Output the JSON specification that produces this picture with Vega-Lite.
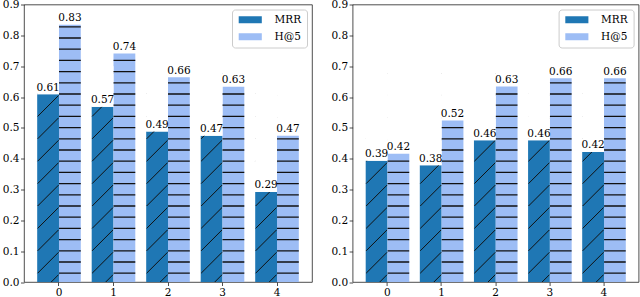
{
  "$schema": "https://vega.github.io/schema/vega-lite/v6.json",
  "padding": {"left": 1, "top": -1.5, "right": 2, "bottom": 0},
  "spacing": 40.6,
  "bounds": "flush",
  "config": {
    "font": "DejaVu Serif",
    "view": {"stroke": "#222222", "strokeWidth": 0.8},
    "axis": {"labelFont": "DejaVu Serif", "labelFontSize": 10.5, "labelColor": "#000000", "tickColor": "#222222", "tickSize": 3.5, "tickWidth": 0.8, "domain": false, "grid": false, "title": null, "labelPadding": 1.5, "labelOverlap": false},
    "axisY": {"tickCount": 10, "labelOverlap": false, "format": ".1f"},
    "axisX": {"labelAngle": 0, "labelPadding": 2},
    "legend": {
      "orient": "top-right", "offset": 5, "padding": 5,
      "symbolType": "M-3.3,-1H3.3V1H-3.3Z", "symbolSize": 49, "symbolStrokeWidth": 0, "symbolOffset": 8,
      "labelFont": "DejaVu Serif", "labelFontSize": 10.5, "labelColor": "#000000", "labelOffset": 19,
      "strokeColor": "#cccccc", "fillColor": "#ffffff", "cornerRadius": 3, "rowPadding": 6
    }
  },
  "data": {"values": [
    {"panel": "A", "k": "0", "metric": "MRR", "value": 0.609},
    {"panel": "A", "k": "1", "metric": "MRR", "value": 0.568},
    {"panel": "A", "k": "2", "metric": "MRR", "value": 0.488},
    {"panel": "A", "k": "3", "metric": "MRR", "value": 0.474},
    {"panel": "A", "k": "4", "metric": "MRR", "value": 0.292},
    {"panel": "A", "k": "0", "metric": "H@5", "value": 0.834},
    {"panel": "A", "k": "1", "metric": "H@5", "value": 0.741},
    {"panel": "A", "k": "2", "metric": "H@5", "value": 0.664},
    {"panel": "A", "k": "3", "metric": "H@5", "value": 0.633},
    {"panel": "A", "k": "4", "metric": "H@5", "value": 0.474},
    {"panel": "B", "k": "0", "metric": "MRR", "value": 0.393},
    {"panel": "B", "k": "1", "metric": "MRR", "value": 0.379},
    {"panel": "B", "k": "2", "metric": "MRR", "value": 0.46},
    {"panel": "B", "k": "3", "metric": "MRR", "value": 0.46},
    {"panel": "B", "k": "4", "metric": "MRR", "value": 0.422},
    {"panel": "B", "k": "0", "metric": "H@5", "value": 0.416},
    {"panel": "B", "k": "1", "metric": "H@5", "value": 0.524},
    {"panel": "B", "k": "2", "metric": "H@5", "value": 0.634},
    {"panel": "B", "k": "3", "metric": "H@5", "value": 0.661},
    {"panel": "B", "k": "4", "metric": "H@5", "value": 0.661}
  ]},
  "resolve": {"scale": {"color": "independent"}, "legend": {"color": "independent"}},
  "hconcat": [
    {
      "width": 288, "height": 277.5,
      "transform": [{"filter": "datum.panel == 'A'"}],
      "layer": [
        {"mark": {"type": "bar"},
         "encoding": {
           "x": {"field": "k", "type": "nominal", "scale": {"paddingInner": 0.2, "paddingOuter": 0.242}},
           "xOffset": {"field": "metric", "type": "nominal", "scale": {"domain": ["MRR", "H@5"]}},
           "y": {"field": "value", "type": "quantitative", "scale": {"domain": [0, 0.9]}, "axis": {"values": [0, 0.1, 0.2, 0.3, 0.4, 0.5, 0.6, 0.7, 0.8, 0.9], "format": ".1f", "labelOverlap": false}},
           "color": {"field": "metric", "type": "nominal", "scale": {"domain": ["MRR", "H@5"], "range": ["#1f77b4", "#9dbdf5"]}, "legend": {"title": null}}
         }},
        {"transform": [{"filter": "datum.metric == 'MRR'"}],
         "mark": {"type": "point", "shape": "M3.15,0L10.45,-7.3M-10.45,-8.8L10.45,-29.7M-10.45,-31.2L10.45,-52.1M-10.45,-53.6L10.45,-74.5M-10.45,-76L10.45,-96.9M-10.45,-98.4L10.45,-119.3M-10.45,-120.8L10.45,-141.7M-10.45,-143.2L10.45,-164.1M-10.45,-165.6L10.45,-186.5M-10.45,-188L10.45,-208.9", "size": 4, "filled": false, "stroke": "#111111", "strokeWidth": 1, "opacity": 1},
         "encoding": {
           "x": {"field": "k", "type": "nominal"},
           "xOffset": {"field": "metric", "type": "nominal"},
           "y": {"datum": 0, "type": "quantitative", "axis": {"values": [0, 0.1, 0.2, 0.3, 0.4, 0.5, 0.6, 0.7, 0.8, 0.9], "format": ".1f", "labelOverlap": false}}}},
        {"transform": [{"filter": "datum.metric == 'MRR'"}],
         "mark": {"type": "bar", "color": "#ffffff"},
         "encoding": {
           "x": {"field": "k", "type": "nominal"},
           "xOffset": {"field": "metric", "type": "nominal"},
           "y": {"field": "value", "type": "quantitative", "axis": {"values": [0, 0.1, 0.2, 0.3, 0.4, 0.5, 0.6, 0.7, 0.8, 0.9], "format": ".1f", "labelOverlap": false}}, "y2": {"datum": 0.7}}},
        {"transform": [{"filter": "datum.metric == 'H@5'"}],
         "mark": {"type": "rule", "strokeWidth": 21.8, "strokeDash": [1.3, 9.9], "strokeDashOffset": {"expr": "9.45 - datum.value * 308.33"}, "color": "#111111"},
         "encoding": {
           "x": {"field": "k", "type": "nominal"},
           "xOffset": {"field": "metric", "type": "nominal"},
           "y": {"field": "value", "type": "quantitative", "axis": {"values": [0, 0.1, 0.2, 0.3, 0.4, 0.5, 0.6, 0.7, 0.8, 0.9], "format": ".1f", "labelOverlap": false}}, "y2": {"datum": 0}}},
        {"mark": {"type": "text", "dy": -3.5, "baseline": "alphabetic", "font": "DejaVu Serif", "fontSize": 10.5, "color": "#000000"},
         "encoding": {
           "x": {"field": "k", "type": "nominal"},
           "xOffset": {"field": "metric", "type": "nominal"},
           "y": {"field": "value", "type": "quantitative", "axis": {"values": [0, 0.1, 0.2, 0.3, 0.4, 0.5, 0.6, 0.7, 0.8, 0.9], "format": ".1f", "labelOverlap": false}}, "text": {"field": "value", "type": "quantitative", "format": ".2f"}}}
      ]
    },
    {
      "width": 286, "height": 277.5,
      "transform": [{"filter": "datum.panel == 'B'"}],
      "layer": [
        {"mark": {"type": "bar"},
         "encoding": {
           "x": {"field": "k", "type": "nominal", "scale": {"paddingInner": 0.2, "paddingOuter": 0.242}},
           "xOffset": {"field": "metric", "type": "nominal", "scale": {"domain": ["MRR", "H@5"]}},
           "y": {"field": "value", "type": "quantitative", "scale": {"domain": [0, 0.9]}, "axis": {"values": [0, 0.1, 0.2, 0.3, 0.4, 0.5, 0.6, 0.7, 0.8, 0.9], "format": ".1f", "labelOverlap": false}},
           "color": {"field": "metric", "type": "nominal", "scale": {"domain": ["MRR", "H@5"], "range": ["#1f77b4", "#9dbdf5"]}, "legend": {"title": null}}
         }},
        {"transform": [{"filter": "datum.metric == 'MRR'"}],
         "mark": {"type": "point", "shape": "M3.15,0L10.45,-7.3M-10.45,-8.8L10.45,-29.7M-10.45,-31.2L10.45,-52.1M-10.45,-53.6L10.45,-74.5M-10.45,-76L10.45,-96.9M-10.45,-98.4L10.45,-119.3M-10.45,-120.8L10.45,-141.7M-10.45,-143.2L10.45,-164.1M-10.45,-165.6L10.45,-186.5M-10.45,-188L10.45,-208.9", "size": 4, "filled": false, "stroke": "#111111", "strokeWidth": 1, "opacity": 1},
         "encoding": {
           "x": {"field": "k", "type": "nominal"},
           "xOffset": {"field": "metric", "type": "nominal"},
           "y": {"datum": 0, "type": "quantitative", "axis": {"values": [0, 0.1, 0.2, 0.3, 0.4, 0.5, 0.6, 0.7, 0.8, 0.9], "format": ".1f", "labelOverlap": false}}}},
        {"transform": [{"filter": "datum.metric == 'MRR'"}],
         "mark": {"type": "bar", "color": "#ffffff"},
         "encoding": {
           "x": {"field": "k", "type": "nominal"},
           "xOffset": {"field": "metric", "type": "nominal"},
           "y": {"field": "value", "type": "quantitative", "axis": {"values": [0, 0.1, 0.2, 0.3, 0.4, 0.5, 0.6, 0.7, 0.8, 0.9], "format": ".1f", "labelOverlap": false}}, "y2": {"datum": 0.7}}},
        {"transform": [{"filter": "datum.metric == 'H@5'"}],
         "mark": {"type": "rule", "strokeWidth": 21.65, "strokeDash": [1.3, 9.9], "strokeDashOffset": {"expr": "9.45 - datum.value * 308.33"}, "color": "#111111"},
         "encoding": {
           "x": {"field": "k", "type": "nominal"},
           "xOffset": {"field": "metric", "type": "nominal"},
           "y": {"field": "value", "type": "quantitative", "axis": {"values": [0, 0.1, 0.2, 0.3, 0.4, 0.5, 0.6, 0.7, 0.8, 0.9], "format": ".1f", "labelOverlap": false}}, "y2": {"datum": 0}}},
        {"mark": {"type": "text", "dy": -3.5, "baseline": "alphabetic", "font": "DejaVu Serif", "fontSize": 10.5, "color": "#000000"},
         "encoding": {
           "x": {"field": "k", "type": "nominal"},
           "xOffset": {"field": "metric", "type": "nominal"},
           "y": {"field": "value", "type": "quantitative", "axis": {"values": [0, 0.1, 0.2, 0.3, 0.4, 0.5, 0.6, 0.7, 0.8, 0.9], "format": ".1f", "labelOverlap": false}}, "text": {"field": "value", "type": "quantitative", "format": ".2f"}}}
      ]
    }
  ]
}
